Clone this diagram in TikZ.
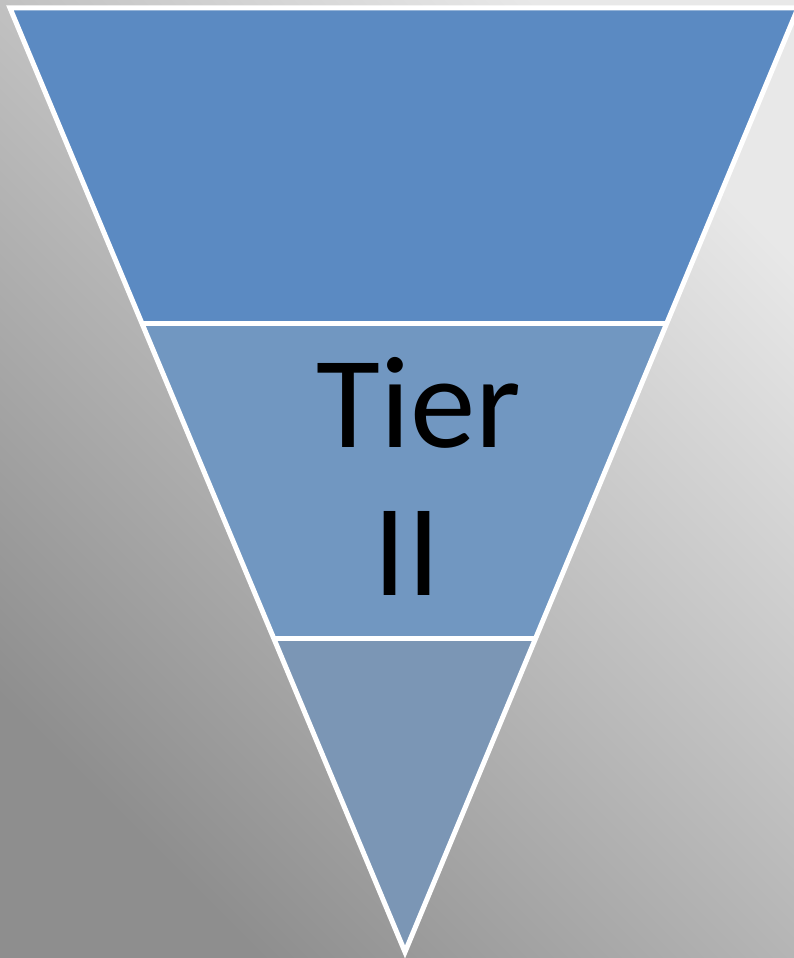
\documentclass[tikz,border=0pt]{standalone}
\usepackage{fontspec}
\setmainfont{Carlito}
\definecolor{bandA}{RGB}{91,138,194}
\definecolor{bandB}{RGB}{113,151,193}
\definecolor{bandC}{RGB}{123,150,181}
\definecolor{bgLight}{RGB}{232,232,232}
\definecolor{bgDark}{RGB}{142,142,142}
\tikzset{
  sep/.style={draw=white, line width=5pt},
  tiertext/.style={font=\fontsize{131}{148}\selectfont, text=black, inner sep=0pt, anchor=base}
}
\begin{document}
\begin{tikzpicture}[x=1pt,y=-1pt]
\useasboundingbox (0,0) rectangle (794,958);
\shade[top color=bgLight, bottom color=bgDark, shading angle=-45] (0,0) rectangle (794,958);
% bands
\fill[bandA] (10,8) -- (798,8) -- (666.9,323) -- (141.8,323) -- cycle;
\fill[bandB] (141.8,323) -- (666.9,323) -- (535.7,638) -- (273.6,638) -- cycle;
\fill[bandC] (273.6,638) -- (535.7,638) -- (405,952) -- cycle;
% outline
\coordinate (tl) at (10,8);
\coordinate (tr) at (798,8);
\coordinate (ap) at (405,952);
\coordinate (l1) at (141.8,323);
\coordinate (r1) at (666.9,323);
\coordinate (l2) at (273.6,638);
\coordinate (r2) at (535.7,638);
\draw[sep, line join=miter] (ap) -- (tl) -- (tr) -- cycle;
\draw[sep] (l1) -- (r1);
\draw[sep] (l2) -- (r2);
\node[tiertext] (tierA) at (419,447) {Tier};
\node[tiertext] (tierB) at (407,595) {II};
\end{tikzpicture}
\end{document}
